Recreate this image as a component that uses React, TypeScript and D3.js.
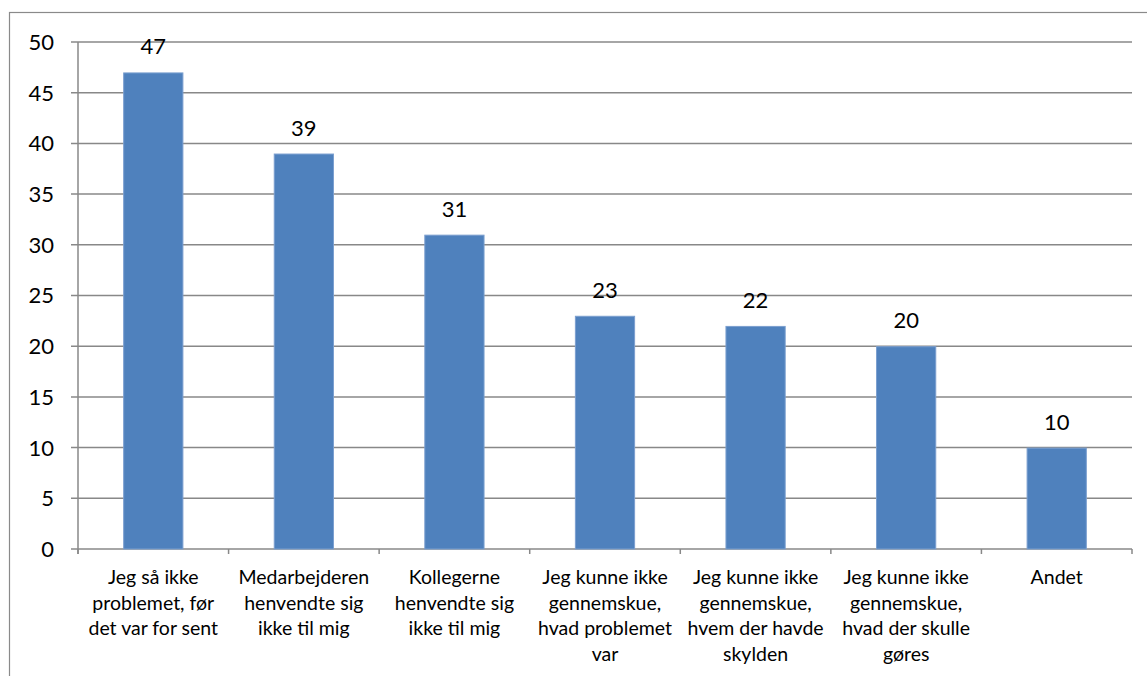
import { useEffect, useRef } from 'react';
import * as d3 from 'd3';

const categories: string[][] = [
  ['Jeg så ikke', 'problemet, før', 'det var for sent'],
  ['Medarbejderen', 'henvendte sig', 'ikke til mig'],
  ['Kollegerne', 'henvendte sig', 'ikke til mig'],
  ['Jeg kunne ikke', 'gennemskue,', 'hvad problemet', 'var'],
  ['Jeg kunne ikke', 'gennemskue,', 'hvem der havde', 'skylden'],
  ['Jeg kunne ikke', 'gennemskue,', 'hvad der skulle', 'gøres'],
  ['Andet'],
];
const values = [47, 39, 31, 23, 22, 20, 10];
const yTicks = [0, 5, 10, 15, 20, 25, 30, 35, 40, 45, 50];

const App = (): JSX.Element => {
  const svgRef = useRef<SVGSVGElement>(null);

  useEffect(() => {
    const width = 1147;
    const height = 676;
    const left = 78;
    const right = 1132;
    const top = 42;
    const bottom = 549;
    const font = 'Lato, "Open Sans", sans-serif';

    const svg = d3.select(svgRef.current)
      .attr('width', width)
      .attr('height', height)
      .attr('viewBox', `0 0 ${width} ${height}`);
    svg.selectAll('*').remove();

    // outer frame, runs off the right and bottom edges
    svg.append('rect')
      .attr('x', 9.5)
      .attr('y', 12.5)
      .attr('width', width + 20)
      .attr('height', height + 20)
      .attr('fill', 'white')
      .attr('stroke', '#8a8a8a')
      .attr('stroke-width', 1.2);

    const x = d3.scaleBand<number>()
      .domain(values.map((_d, i) => i))
      .range([left, right])
      .paddingInner(0.6)
      .paddingOuter(0.3);

    const y = d3.scaleLinear().domain([0, 50]).range([bottom, top]);

    // gridlines
    svg.append('g')
      .selectAll('line')
      .data(yTicks)
      .enter()
      .append('line')
      .attr('x1', left - 7)
      .attr('x2', right)
      .attr('y1', d => y(d))
      .attr('y2', d => y(d))
      .attr('stroke', '#888')
      .attr('stroke-width', 1.5);

    // y axis line
    svg.append('line')
      .attr('x1', left).attr('x2', left)
      .attr('y1', top).attr('y2', bottom + 5)
      .attr('stroke', '#888').attr('stroke-width', 1.5);

    // x ticks between categories
    const boundaries = d3.range(values.length + 1).map(i => left + i * (right - left) / values.length);
    svg.append('g')
      .selectAll('line')
      .data(boundaries)
      .enter()
      .append('line')
      .attr('x1', d => d).attr('x2', d => d)
      .attr('y1', bottom).attr('y2', bottom + 5)
      .attr('stroke', '#888').attr('stroke-width', 1.5);

    // y tick labels
    svg.append('g')
      .selectAll('text')
      .data(yTicks)
      .enter()
      .append('text')
      .attr('x', 54)
      .attr('y', d => y(d))
      .attr('dy', '0.36em')
      .attr('text-anchor', 'end')
      .attr('font-family', font)
      .attr('font-size', 22)
      .attr('fill', '#000')
      .text(d => d);

    // bars
    svg.append('g')
      .selectAll('rect')
      .data(values)
      .enter()
      .append('rect')
      .attr('x', (_d, i) => x(i)! + 0.5)
      .attr('y', d => y(d) + 0.5)
      .attr('width', x.bandwidth() - 1)
      .attr('height', d => bottom - y(d) - 0.5)
      .attr('fill', '#4F81BD')
      .attr('stroke', '#7b9fcf')
      .attr('stroke-width', 1);

    // value labels
    svg.append('g')
      .selectAll('text')
      .data(values)
      .enter()
      .append('text')
      .attr('x', (_d, i) => x(i)! + x.bandwidth() / 2)
      .attr('y', d => y(d) - 18)
      .attr('text-anchor', 'middle')
      .attr('font-family', font)
      .attr('font-size', 22)
      .attr('fill', '#000')
      .text(d => d);

    // category labels
    const cat = svg.append('g')
      .selectAll('text')
      .data(categories)
      .enter()
      .append('text')
      .attr('text-anchor', 'middle')
      .attr('font-family', font)
      .attr('font-size', 19.5)
      .attr('fill', '#000');

    cat.selectAll('tspan')
      .data((d, i) => d.map(line => ({ line, i })))
      .enter()
      .append('tspan')
      .attr('x', d => x(d.i)! + x.bandwidth() / 2)
      .attr('y', (_d, j) => 584 + j * 25.5)
      .text(d => d.line);
  }, []);

  return <svg ref={svgRef} style={{ display: 'block', position: 'absolute', left: 0, top: 0 }} />;
};

export default App;
